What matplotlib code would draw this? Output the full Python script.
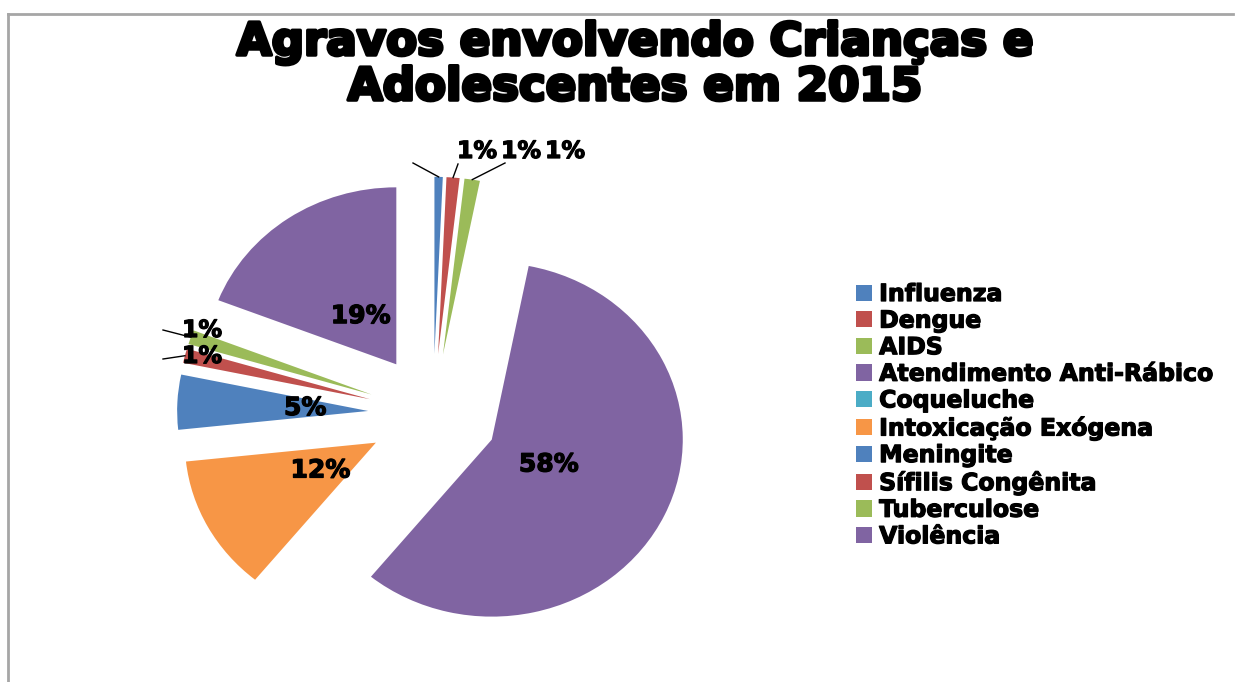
import matplotlib
matplotlib.use('Agg')
import numpy as np
import matplotlib.pyplot as plt
import matplotlib.patheffects as pe
from matplotlib.patches import Patch
from matplotlib.lines import Line2D

# ------------------------------------------------------------
# Data (shares, in %)
# ------------------------------------------------------------
categories = ['Influenza', 'Dengue', 'AIDS', 'Atendimento Anti-Rábico',
              'Coqueluche', 'Intoxicação Exógena', 'Meningite',
              'Sífilis Congênita', 'Tuberculose', 'Violência']
shares = [0.7, 1.1, 1.3, 57.8, 0.0, 12.4, 5.0, 1.3, 1.3, 19.1]
colors = ['#4F81BD', '#C0504D', '#9BBB59', '#8064A2', '#4BACC6',
          '#F79646', '#4F81BD', '#C0504D', '#9BBB59', '#8064A2']
title = 'Agravos envolvendo Crianças e\nAdolescentes em 2015'

# small slices get outside labels with leader lines (index, label px, leader start px)
outside = [(0, (477, 151), (413, 163)),
           (1, (521, 151), (458, 164)),
           (2, (565, 151), (505, 163)),
           (8, (202, 330), (163, 330)),
           (7, (202, 356), (163, 359))]

# ------------------------------------------------------------
# Layout: pie centre / radii in pixels (chart is slightly stretched)
# ------------------------------------------------------------
W, H = 1244, 682
CX, CY, SX, SY = 433, 414, 191, 177
EXPLODE = 0.34
heavy = [pe.withStroke(linewidth=0.9, foreground='black')]


def px(x, y):
    """pixel (y down) -> data coords of the pie axes"""
    return (x - CX) / SX, (CY - y) / SY


fig = plt.figure(figsize=(W / 100, H / 100), dpi=100)
ax = fig.add_axes([0, 0, 1, 1])

total = sum(shares)
wedges, texts, autotexts = ax.pie(
    shares, colors=colors, startangle=90, counterclock=False,
    explode=[EXPLODE] * len(shares), radius=1.0,
    wedgeprops=dict(linewidth=0),
    autopct=lambda p: f'{p:.0f}%' if p >= 3 else '',
    pctdistance=0.33,
    textprops=dict(fontsize=18, fontweight='bold', color='black',
                   path_effects=heavy))
ax.set_aspect('auto')
ax.set_xlim(-CX / SX, (W - CX) / SX)
ax.set_ylim(-(H - CY) / SY, CY / SY)
ax.axis('off')

# outside labels + leader lines to the wedge tips
for i, lab_px, start_px in outside:
    w = wedges[i]
    mid = np.deg2rad((w.theta1 + w.theta2) / 2)
    cx, cy = w.center
    tip = (cx + np.cos(mid), cy + np.sin(mid))
    s = px(*start_px)
    ax.plot([s[0], tip[0]], [s[1], tip[1]], color='black', lw=1.0)
    lx, ly = px(*lab_px)
    ax.text(lx, ly, f'{shares[i] / total * 100:.0f}%', ha='center', va='center',
            fontsize=17, fontweight='bold', color='black', path_effects=heavy)

# title
fig.text(635 / W, 1 - 21 / H, title, ha='center', va='top', fontsize=32.5,
         fontweight='bold', linespacing=1.06, multialignment='center',
         path_effects=[pe.withStroke(linewidth=2.5, foreground='black')])

# legend
handles = [Patch(facecolor=c, edgecolor='none') for c in colors]
fig.legend(handles, categories, loc='upper left',
           bbox_to_anchor=(856 / W, 1 - 282 / H), frameon=False,
           prop=dict(weight='bold', size=17), handlelength=0.68,
           handleheight=0.68, handletextpad=0.3, labelspacing=0.11,
           borderpad=0, borderaxespad=0)
for t in fig.legends[0].get_texts():
    t.set_path_effects(heavy)

# chart area border (top + left edge visible)
fig.add_artist(Line2D([8 / W, 1233 / W], [1 - 14 / H, 1 - 14 / H],
                      color='#A6A6A6', lw=2))
fig.add_artist(Line2D([8 / W, 8 / W], [1 - 14 / H, 0],
                      color='#A6A6A6', lw=2))

fig.savefig('out.png', dpi=100, facecolor='white')
